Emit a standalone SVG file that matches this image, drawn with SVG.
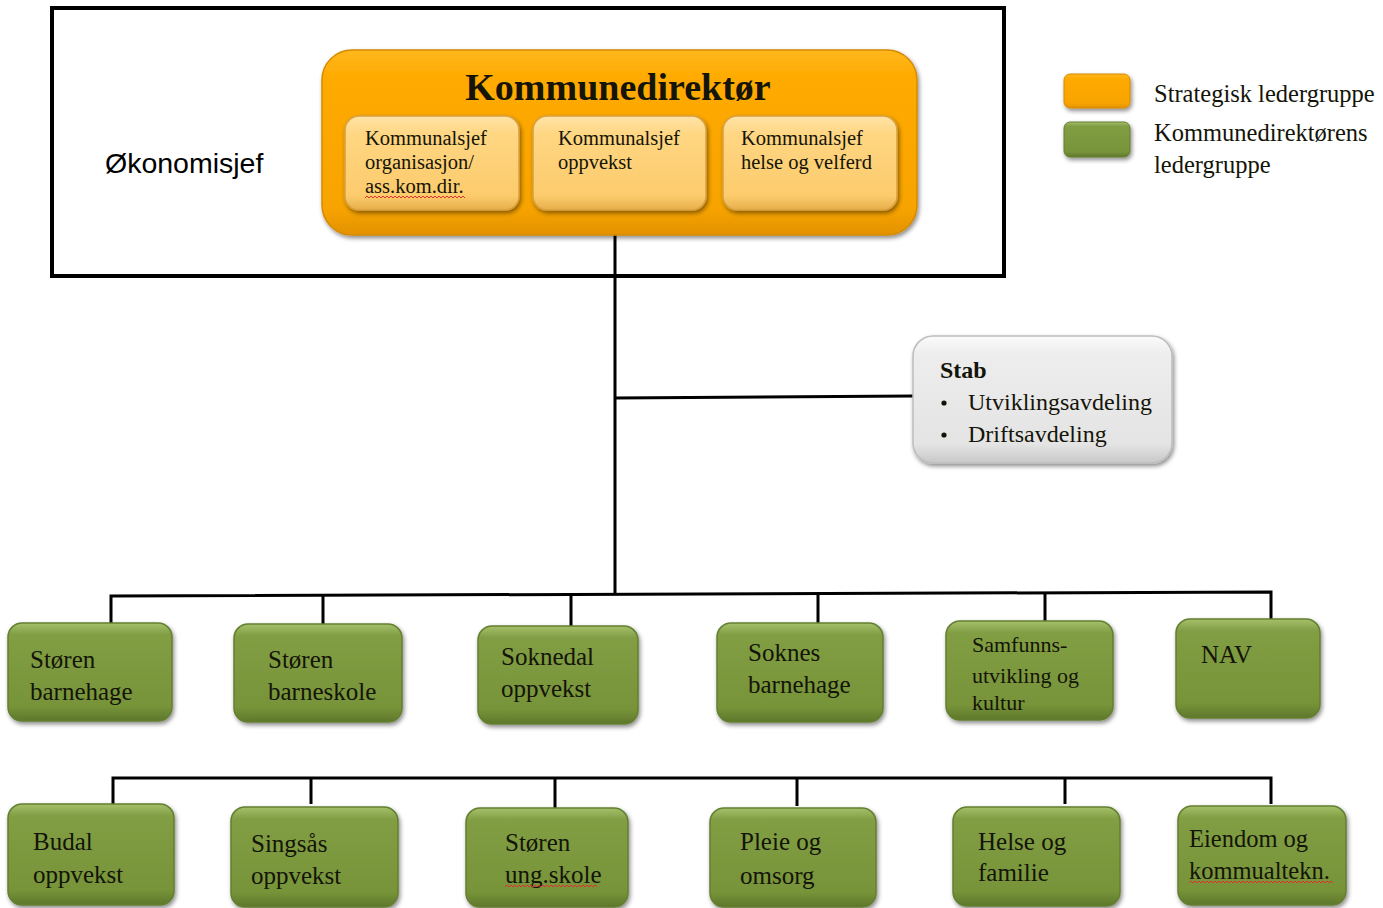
<svg xmlns="http://www.w3.org/2000/svg" width="1383" height="908" viewBox="0 0 1383 908">
<defs>
<linearGradient id="gOr" x1="0" y1="0" x2="0" y2="1"><stop offset="0" stop-color="#FFB81C"/><stop offset="0.15" stop-color="#FFAA00"/><stop offset="0.85" stop-color="#F8A400"/><stop offset="1" stop-color="#E39200"/></linearGradient>
<linearGradient id="gOrL" x1="0" y1="0" x2="0" y2="1"><stop offset="0" stop-color="#FFE3A6"/><stop offset="0.2" stop-color="#FFD682"/><stop offset="0.85" stop-color="#FCCB6C"/><stop offset="1" stop-color="#E6AE4A"/></linearGradient>
<linearGradient id="gGr" x1="0" y1="0" x2="0" y2="1"><stop offset="0" stop-color="#A5C06A"/><stop offset="0.12" stop-color="#819E44"/><stop offset="0.85" stop-color="#779439"/><stop offset="1" stop-color="#5E772B"/></linearGradient>
<linearGradient id="gGy" x1="0" y1="0" x2="0" y2="1"><stop offset="0" stop-color="#FAFAFA"/><stop offset="0.15" stop-color="#EDEDED"/><stop offset="0.85" stop-color="#E4E4E4"/><stop offset="1" stop-color="#C8C8C8"/></linearGradient>
<filter id="sh" x="-10%" y="-10%" width="125%" height="130%"><feDropShadow dx="1.5" dy="2.5" stdDeviation="2" flood-color="#000" flood-opacity="0.45"/></filter>
</defs>
<style>
.t{font-family:"Liberation Serif",serif;fill:#141408}
.g{fill:url(#gGr);stroke:#647F30;stroke-width:1.5;filter:url(#sh)}
.o{fill:url(#gOrL);stroke:#D9A040;stroke-width:1.5;filter:url(#sh)}
.ln{stroke:#000;stroke-width:3;fill:none}
.sq{stroke:#E03030;stroke-width:1;fill:none}
.gt{font-size:25px}
.ot{font-size:20.5px}
</style>
<rect x="52" y="8" width="952" height="268" fill="#fff" stroke="#000" stroke-width="4"/>
<text x="105" y="173" font-family="Liberation Sans, Arial, sans-serif" font-size="28.5" fill="#000">Økonomisjef</text>

<g id="connectors">
<path class="ln" d="M615 235 V595"/>
<path class="ln" d="M615 398 L913 396"/>
<path class="ln" d="M111 624 V596 L1271 592 V619"/>
<path class="ln" d="M323 595 V625 M571 594 V627 M818 593 V623 M1045 593 V622"/>
<path class="ln" d="M113 804 V778 H1271 V804"/>
<path class="ln" d="M311 778 V804 M555 778 V808 M797 778 V806 M1065 778 V804"/>
</g>

<g id="kommunedirektor">
<rect x="322" y="50" width="595" height="185" rx="30" fill="url(#gOr)" stroke="#D58A00" stroke-width="1.5" filter="url(#sh)"/>
<text class="t" x="618" y="100" text-anchor="middle" font-size="38" font-weight="bold">Kommunedirektør</text>
</g>
<g id="ks1">
<rect class="o" x="345" y="116" width="174" height="94" rx="14"/>
<text class="t ot"><tspan x="365" y="145">Kommunalsjef</tspan><tspan x="365" y="169">organisasjon/</tspan><tspan x="365" y="193">ass.kom.dir.</tspan></text>
<path class="sq" d="M365 198 l2 -2 l2 2 l2 -2 l2 2 l2 -2 l2 2 l2 -2 l2 2 l2 -2 l2 2 l2 -2 l2 2 l2 -2 l2 2 l2 -2 l2 2 l2 -2 l2 2 l2 -2 l2 2 l2 -2 l2 2 l2 -2 l2 2 l2 -2 l2 2 l2 -2 l2 2 l2 -2 l2 2 l2 -2 l2 2 l2 -2 l2 2 l2 -2 l2 2 l2 -2 l2 2 l2 -2 l2 2 l2 -2 l2 2 l2 -2 l2 2 l2 -2 l2 2 l2 -2 l2 2 l2 -2 l2 2"/>
</g>
<g id="ks2">
<rect class="o" x="533" y="116" width="173" height="94" rx="14"/>
<text class="t ot"><tspan x="558" y="145">Kommunalsjef</tspan><tspan x="558" y="169">oppvekst</tspan></text>
</g>
<g id="ks3">
<rect class="o" x="723" y="116" width="174" height="94" rx="14"/>
<text class="t ot"><tspan x="741" y="145">Kommunalsjef</tspan><tspan x="741" y="169">helse og velferd</tspan></text>
</g>

<g id="legend">
<rect x="1064" y="74" width="66" height="34" rx="6" fill="url(#gOr)" stroke="#D58A00" filter="url(#sh)"/>
<rect x="1064" y="122" width="66" height="35" rx="6" fill="url(#gGr)" stroke="#647F30" filter="url(#sh)"/>
<text class="t" font-size="24.5"><tspan x="1154" y="102">Strategisk ledergruppe</tspan><tspan x="1154" y="141">Kommunedirektørens</tspan><tspan x="1154" y="173">ledergruppe</tspan></text>
</g>

<g id="stab">
<rect x="913" y="336" width="259" height="127" rx="20" fill="url(#gGy)" stroke="#BDBDBD" stroke-width="1.5" filter="url(#sh)"/>
<text class="t" x="940" y="378" font-size="24" font-weight="bold">Stab</text>
<circle cx="944" cy="403" r="2.6" fill="#141408"/>
<circle cx="944" cy="435" r="2.6" fill="#141408"/>
<text class="t" font-size="24"><tspan x="968" y="410">Utviklingsavdeling</tspan><tspan x="968" y="442">Driftsavdeling</tspan></text>
</g>

<g id="storen-barnehage"><rect class="g" x="8" y="623" width="164" height="98" rx="14"/><text class="t gt"><tspan x="30" y="668">Støren</tspan><tspan x="30" y="700">barnehage</tspan></text></g>
<g id="storen-barneskole"><rect class="g" x="234" y="624" width="168" height="98" rx="14"/><text class="t gt"><tspan x="268" y="668">Støren</tspan><tspan x="268" y="700">barneskole</tspan></text></g>
<g id="soknedal-oppvekst"><rect class="g" x="478" y="626" width="160" height="98" rx="14"/><text class="t gt"><tspan x="501" y="665">Soknedal</tspan><tspan x="501" y="697">oppvekst</tspan></text></g>
<g id="soknes-barnehage"><rect class="g" x="717" y="623" width="166" height="99" rx="14"/><text class="t gt"><tspan x="748" y="661">Soknes</tspan><tspan x="748" y="693">barnehage</tspan></text></g>
<g id="samfunnsutvikling"><rect class="g" x="946" y="621" width="167" height="99" rx="14"/><text class="t" font-size="22"><tspan x="972" y="652">Samfunns-</tspan><tspan x="972" y="683">utvikling og</tspan><tspan x="972" y="710">kultur</tspan></text></g>
<g id="nav"><rect class="g" x="1176" y="619" width="144" height="99" rx="14"/><text class="t gt" x="1201" y="663">NAV</text></g>

<g id="budal-oppvekst"><rect class="g" x="8" y="804" width="166" height="101" rx="14"/><text class="t gt"><tspan x="33" y="850">Budal</tspan><tspan x="33" y="883">oppvekst</tspan></text></g>
<g id="singsas-oppvekst"><rect class="g" x="231" y="807" width="167" height="100" rx="14"/><text class="t gt"><tspan x="251" y="852">Singsås</tspan><tspan x="251" y="884">oppvekst</tspan></text></g>
<g id="storen-ungskole"><rect class="g" x="466" y="808" width="162" height="99" rx="14"/><text class="t gt"><tspan x="505" y="851">Støren</tspan><tspan x="505" y="883">ung.skole</tspan></text>
<path class="sq" d="M505 887 l2 -2 l2 2 l2 -2 l2 2 l2 -2 l2 2 l2 -2 l2 2 l2 -2 l2 2 l2 -2 l2 2 l2 -2 l2 2 l2 -2 l2 2 l2 -2 l2 2 l2 -2 l2 2 l2 -2 l2 2 l2 -2 l2 2 l2 -2 l2 2 l2 -2 l2 2 l2 -2 l2 2 l2 -2 l2 2 l2 -2 l2 2 l2 -2 l2 2 l2 -2 l2 2 l2 -2 l2 2 l2 -2 l2 2 l2 -2 l2 2 l2 -2 l2 2"/></g>
<g id="pleie-omsorg"><rect class="g" x="710" y="808" width="166" height="99" rx="14"/><text class="t gt"><tspan x="740" y="850">Pleie og</tspan><tspan x="740" y="884">omsorg</tspan></text></g>
<g id="helse-familie"><rect class="g" x="953" y="807" width="167" height="99" rx="14"/><text class="t gt"><tspan x="978" y="850">Helse og</tspan><tspan x="978" y="881">familie</tspan></text></g>
<g id="eiendom"><rect class="g" x="1178" y="806" width="168" height="99" rx="14"/><text class="t" font-size="24.5"><tspan x="1189" y="847">Eiendom og</tspan><tspan x="1189" y="879">kommualtekn.</tspan></text>
<path class="sq" d="M1189 883 l2 -2 l2 2 l2 -2 l2 2 l2 -2 l2 2 l2 -2 l2 2 l2 -2 l2 2 l2 -2 l2 2 l2 -2 l2 2 l2 -2 l2 2 l2 -2 l2 2 l2 -2 l2 2 l2 -2 l2 2 l2 -2 l2 2 l2 -2 l2 2 l2 -2 l2 2 l2 -2 l2 2 l2 -2 l2 2 l2 -2 l2 2 l2 -2 l2 2 l2 -2 l2 2 l2 -2 l2 2 l2 -2 l2 2 l2 -2 l2 2 l2 -2 l2 2 l2 -2 l2 2 l2 -2 l2 2 l2 -2 l2 2 l2 -2 l2 2 l2 -2 l2 2 l2 -2 l2 2 l2 -2 l2 2 l2 -2 l2 2 l2 -2 l2 2 l2 -2 l2 2 l2 -2 l2 2 l2 -2 l2 2 l2 -2 l2 2"/></g>
</svg>
